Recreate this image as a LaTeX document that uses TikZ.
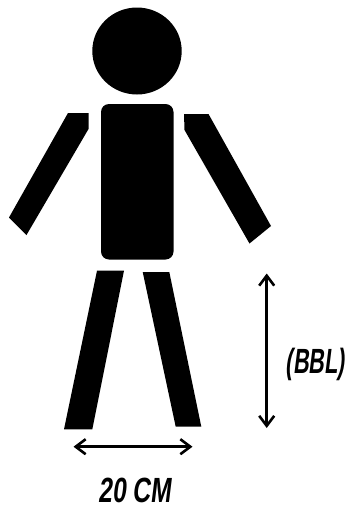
\documentclass[tikz,border=0pt]{standalone}
\usepackage{fontspec}
\usepackage{tikz}
\usetikzlibrary{arrows.meta}
\setmainfont{Liberation Sans}
\tikzset{
  bodypart/.style={fill=black, draw=none},
  dimarrow/.style={draw=black, line width=2.6pt, {Straight Barb[length=10pt,width=15pt,line width=2.6pt]}-{Straight Barb[length=10pt,width=15pt,line width=2.6pt]}},
  dimlabel/.style={inner sep=0pt, xscale=0.62, xslant=0.2, transform shape, font=\bfseries\fontsize{35}{35}\selectfont}
}
\begin{document}
\begin{tikzpicture}[x=1pt, y=-1pt]
\useasboundingbox (0,0) rectangle (348,506);
% head and torso
\fill[bodypart] (137,51) ellipse [x radius=44.7, y radius=43.5];
\fill[bodypart, rounded corners=8pt] (101,104) rectangle (173.5,259.5);

% arms
\fill[bodypart] (68,113) -- (88.5,113) -- (88.5,129) -- (26.5,235) -- (9,217.5) -- cycle;
\fill[bodypart] (184,114) -- (208.5,114) -- (271,226) -- (249.5,243.5) -- (184.5,130) -- cycle;

% legs
\fill[bodypart] (97,270.7) -- (124,270.7) -- (92.3,429.3) -- (64,429.3) -- cycle;
\fill[bodypart] (142.7,272) -- (169.3,272) -- (201.3,426.7) -- (175.7,426.7) -- cycle;

% dimensions
\coordinate (BBLtop) at (266.7,273.5);
\coordinate (BBLbot) at (266.7,428);
\coordinate (WL) at (73.5,446.7);
\coordinate (WR) at (192.5,446.7);
\draw[dimarrow] (BBLtop) -- (BBLbot);
\draw[dimarrow] (WL) -- (WR);
\node[dimlabel] (BBL) at (316.5,364.5) {(BBL)};
\node[dimlabel, xscale=1.14] (W20) at (136.5,490.5) {20 CM};
\end{tikzpicture}
\end{document}
